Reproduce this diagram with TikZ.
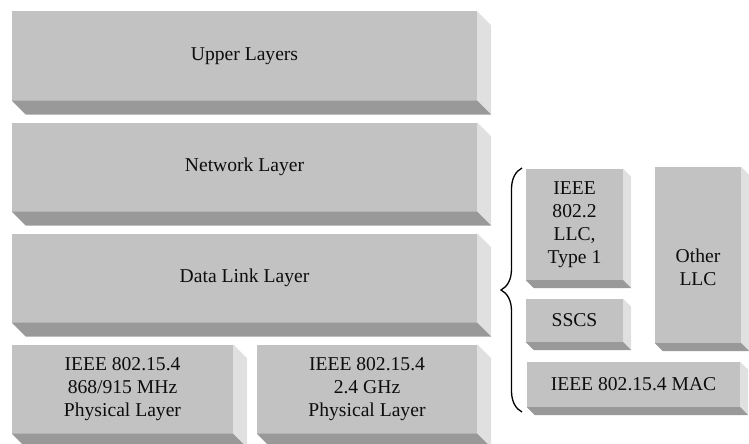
\documentclass[tikz,border=0pt]{standalone}
\usepackage{fontspec}
\setmainfont{Liberation Serif}
\usetikzlibrary{decorations.pathreplacing}

\definecolor{slabfront}{gray}{0.76}
\definecolor{slabside}{gray}{0.88}
\definecolor{slabbottom}{gray}{0.6}
\definecolor{slabtext}{gray}{0.05}

% side and bottom faces of a slab, #2 is the depth
\newcommand{\slabfaces}[2]{%
  \fill[slabside] (#1.north east) -- ++(#2,#2) -- ([shift={(#2,#2)}]#1.south east) -- (#1.south east) -- cycle;
  \fill[slabbottom] (#1.south west) -- (#1.south east) -- ++(#2,#2) -- ([shift={(#2,#2)}]#1.south west) -- cycle;
}

\begin{document}
\begin{tikzpicture}[x=1pt,y=-1pt,node distance=111pt,
    layer/.style={fill=slabfront, text=slabtext, inner sep=0pt, align=center,
      minimum height=89pt, font=\fontsize{19.6}{23}\selectfont}]
        \useasboundingbox (0,0) rectangle (749,444);

        % protocol stack
        \node (upper) [layer, minimum width=465pt] at (244.5,56) {Upper Layers};
        \node (network) [layer, minimum width=465pt, below of=upper] {Network Layer};
        \node (datalink) [layer, minimum width=465pt, below of=network] {Data Link Layer};
        \node (phylow) [layer, minimum width=221pt, below of=datalink, xshift=-122pt] {IEEE 802.15.4\\868/915 MHz\\Physical Layer};
        \node (phyhigh) [layer, minimum width=220pt, below of=datalink, xshift=122.5pt] {IEEE 802.15.4\\2.4 GHz\\Physical Layer};

        % data link sublayers
        \node (llc) [layer, minimum width=97pt, minimum height=111pt] at (574.5,224.5) {IEEE\\802.2\\LLC,\\Type 1};
        \node (sscs) [layer, minimum width=97pt, minimum height=43pt] at (574.5,320.5) {SSCS};
        \node (other) [layer, minimum width=86pt, minimum height=176pt] at (698,255) {};
        \node (otherlbl) [layer, fill=none, minimum height=0pt] at ([yshift=-12pt]other.center) {Other\\LLC};
        \node (mac) [layer, minimum width=213pt, minimum height=45pt] at (633.5,384.5) {IEEE 802.15.4 MAC};

        \foreach \n in {upper,network,datalink,phylow,phyhigh}
            \slabfaces{\n}{14};
        \foreach \n in {llc,sscs,other,mac}
            \slabfaces{\n}{8};

        \coordinate (bracelow) at (522,412);
        \coordinate (bracetop) at (522,168);
        \draw[decorate, decoration={brace, amplitude=21pt}, line width=1.3pt] (bracelow) -- (bracetop);
    \end{tikzpicture}
\end{document}
